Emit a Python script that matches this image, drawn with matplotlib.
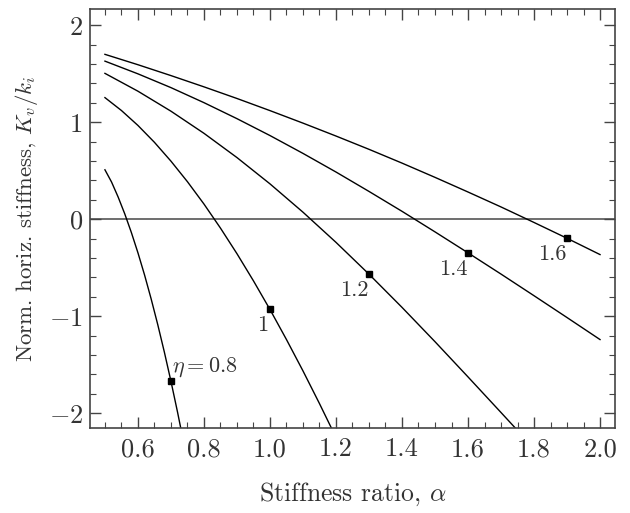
import numpy as np
import matplotlib
matplotlib.use("Agg")
import matplotlib.pyplot as plt
from matplotlib.ticker import MultipleLocator

plt.rcParams['font.family'] = 'serif'
plt.rcParams['font.serif'] = ['cmr10', 'DejaVu Serif']
plt.rcParams['mathtext.fontset'] = 'cm'
plt.rcParams['axes.formatter.use_mathtext'] = True

# values, one curve per eta
eta_labels = [r'$\eta = 0.8$', '1', '1.2', '1.4', '1.6']

x_08 = [0.50, 0.52, 0.54, 0.56, 0.58, 0.60, 0.62, 0.64, 0.66, 0.68, 0.70, 0.72, 0.74]
y_08 = [0.51, 0.384, 0.229, 0.056, -0.136, -0.346, -0.574, -0.821, -1.086, -1.369, -1.670, -1.989, -2.327]

x_10 = [0.50, 0.55, 0.60, 0.65, 0.70, 0.75, 0.80, 0.85, 0.90, 0.95, 1.00, 1.05, 1.10, 1.15, 1.20]
y_10 = [1.254, 1.121, 0.967, 0.793, 0.599, 0.387, 0.157, -0.091, -0.355, -0.635, -0.930,
        -1.240, -1.563, -1.900, -2.249]

x_12 = [0.50, 0.60, 0.70, 0.80, 0.90, 1.00, 1.10, 1.20, 1.30, 1.40, 1.50, 1.60, 1.70, 1.80]
y_12 = [1.504, 1.320, 1.114, 0.886, 0.636, 0.365, 0.073, -0.238, -0.566, -0.908, -1.262,
        -1.625, -1.992, -2.361]

x_14 = [0.50, 0.60, 0.70, 0.80, 0.90, 1.00, 1.10, 1.20, 1.30, 1.40, 1.50, 1.60, 1.70, 1.80, 1.90, 2.00]
y_14 = [1.630, 1.499, 1.357, 1.202, 1.037, 0.863, 0.679, 0.487, 0.287, 0.082, -0.130, -0.346,
        -0.565, -0.788, -1.013, -1.240]

x_16 = [0.50, 0.60, 0.70, 0.80, 0.90, 1.00, 1.10, 1.20, 1.30, 1.40, 1.50, 1.60, 1.70, 1.80, 1.90, 2.00]
y_16 = [1.700, 1.593, 1.481, 1.365, 1.245, 1.120, 0.991, 0.858, 0.721, 0.579, 0.432, 0.281,
        0.127, -0.033, -0.196, -0.364]

# marked point on each curve
mark_x = [0.70, 1.0, 1.30, 1.60, 1.90]
mark_y = [-1.67, -0.93, -0.566, -0.346, -0.196]

curves = [(x_08, y_08), (x_10, y_10), (x_12, y_12), (x_14, y_14), (x_16, y_16)]

fig = plt.figure(figsize=(6.3, 5.13), dpi=100)
ax = fig.add_axes([0.143, 0.166, 0.833, 0.816])

ax.axhline(0, color='#6e6e6e', lw=1.4, zorder=1)

for xs, ys in curves:
    ax.plot(xs, ys, color='black', lw=1.0, zorder=2)

ax.plot(mark_x, mark_y, ls='none', marker='s', ms=4.5, color='black', zorder=3)

# first label sits above right of its marker, the rest below left
ax.annotate(eta_labels[0], (mark_x[0], mark_y[0]), xytext=(1, 10), textcoords='offset points',
            fontsize=16, color='#333333', ha='left', va='center')
ax.annotate(eta_labels[1], (mark_x[1], mark_y[1]), xytext=(-5, -11.5), textcoords='offset points',
            fontsize=16, color='#333333', ha='center', va='center')
for lab, mx, my in zip(eta_labels[2:], mark_x[2:], mark_y[2:]):
    ax.annotate(lab, (mx, my), xytext=(-10.5, -11.5), textcoords='offset points',
                fontsize=16, color='#333333', ha='center', va='center')

ax.set_xlim(0.455, 2.045)
ax.set_ylim(-2.15, 2.165)

ax.xaxis.set_major_locator(MultipleLocator(0.2))
ax.xaxis.set_minor_locator(MultipleLocator(0.05))
ax.yaxis.set_major_locator(MultipleLocator(1))
ax.yaxis.set_minor_locator(MultipleLocator(0.2))
ax.xaxis.set_major_formatter(plt.FuncFormatter(lambda v, p: f'{v:.1f}'))
ax.yaxis.set_major_formatter(plt.FuncFormatter(lambda v, p: f'${int(round(v))}$' if v < 0 else f'{int(round(v))}'))

ax.tick_params(which='both', direction='in', top=True, right=True, color='#444444', labelcolor='#333333')
ax.tick_params(which='major', length=8, width=1, labelsize=19, pad=7)
ax.tick_params(which='minor', length=4.5, width=0.8)
ax.tick_params(axis='y', which='major', pad=5)
for s in ax.spines.values():
    s.set_color('#444444')
    s.set_linewidth(1.2)

ax.set_xlabel(r'Stiffness ratio, $\alpha$', fontsize=18.5, color='#333333', labelpad=14)
ax.set_ylabel(r'Norm. horiz. stiffness, $K_v/k_i$', fontsize=16.5, color='#333333', labelpad=6)

fig.savefig('out.png', dpi=100)
